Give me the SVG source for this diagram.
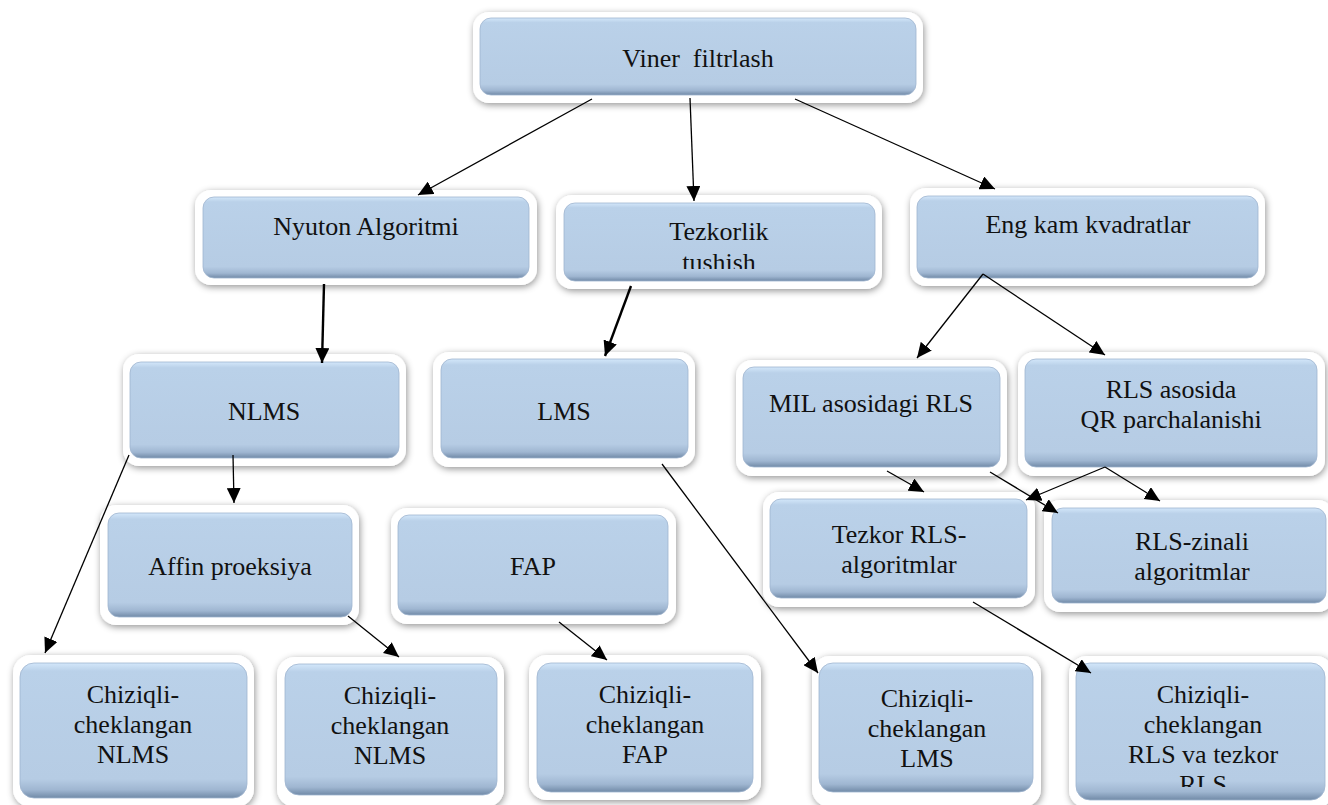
<svg xmlns="http://www.w3.org/2000/svg" width="1328" height="805" viewBox="0 0 1328 805">
<defs>
<style>
.frame{fill:#ffffff;filter:url(#sh);}
.box{fill:url(#g);stroke:#9fb5cf;stroke-width:0.8;}
.t{font-family:'Liberation Serif','Times New Roman',serif;font-size:26px;fill:#111111;text-anchor:middle;}
.c{stroke:#000000;stroke-width:1.3;fill:none;marker-end:url(#ah);}
.thick{stroke-width:2.4;}
</style>
<filter id="sh" x="-10%" y="-15%" width="120%" height="135%">
<feDropShadow dx="1" dy="2" stdDeviation="3.5" flood-color="#000000" flood-opacity="0.42"/>
</filter>
<linearGradient id="g" x1="0" y1="0" x2="0" y2="1">
<stop offset="0" stop-color="#d3e7fa"/>
<stop offset="0.06" stop-color="#bad1e9"/>
<stop offset="0.86" stop-color="#b6cce4"/>
<stop offset="0.94" stop-color="#9fb6d1"/>
<stop offset="1" stop-color="#718aa7"/>
</linearGradient>
<marker id="ah" markerUnits="userSpaceOnUse" markerWidth="16" markerHeight="14" refX="15" refY="7" orient="auto">
<path d="M0,0 L15,7 L0,14 z" fill="#000000"/>
</marker>
<clipPath id="clipA"><rect x="560" y="200" width="320" height="69"/></clipPath>
<clipPath id="clipB"><rect x="1070" y="660" width="258" height="127"/></clipPath>
</defs>
<rect x="0" y="0" width="1328" height="805" fill="#ffffff"/>

<g id="viner">
<rect class="frame" x="473" y="12" width="450" height="91" rx="16"/>
<rect class="box" x="480" y="18" width="436" height="77" rx="11"/>
<text class="t" x="698" y="67" xml:space="preserve">Viner  filtrlash</text>
</g>

<g id="nyuton">
<rect class="frame" x="195" y="190" width="342" height="95" rx="16"/>
<rect class="box" x="203" y="197" width="326" height="81" rx="11"/>
<text class="t" x="366" y="235">Nyuton Algoritmi</text>
</g>

<g id="tezkorlik">
<rect class="frame" x="556" y="195" width="326" height="94" rx="16"/>
<rect class="box" x="564" y="203" width="311" height="78" rx="11"/>
<g clip-path="url(#clipA)">
<text class="t" x="719" y="240">Tezkorlik</text>
<text class="t" x="719" y="271">tushish</text>
</g>
</g>

<g id="eng">
<rect class="frame" x="910" y="188" width="355" height="98" rx="16"/>
<rect class="box" x="917" y="196" width="341" height="82" rx="11"/>
<text class="t" x="1088" y="233">Eng kam kvadratlar</text>
</g>

<g id="nlms">
<rect class="frame" x="123" y="354" width="283" height="112" rx="16"/>
<rect class="box" x="130" y="362" width="269" height="96" rx="11"/>
<text class="t" x="264" y="420">NLMS</text>
</g>

<g id="lms">
<rect class="frame" x="433" y="352" width="262" height="115" rx="16"/>
<rect class="box" x="441" y="359" width="247" height="99" rx="11"/>
<text class="t" x="564" y="420">LMS</text>
</g>

<g id="mil">
<rect class="frame" x="736" y="360" width="271" height="116" rx="16"/>
<rect class="box" x="743" y="367" width="257" height="100" rx="11"/>
<text class="t" x="871" y="412">MIL asosidagi RLS</text>
</g>

<g id="rlsqr">
<rect class="frame" x="1018" y="352" width="307" height="124" rx="16"/>
<rect class="box" x="1025" y="359" width="292" height="108" rx="11"/>
<text class="t" x="1171" y="398">RLS asosida</text>
<text class="t" x="1171" y="428">QR parchalanishi</text>
</g>

<g id="affin">
<rect class="frame" x="100" y="505" width="259" height="120" rx="16"/>
<rect class="box" x="108" y="513" width="244" height="104" rx="11"/>
<text class="t" x="230" y="575">Affin proeksiya</text>
</g>

<g id="fap">
<rect class="frame" x="391" y="508" width="285" height="116" rx="16"/>
<rect class="box" x="398" y="515" width="270" height="100" rx="11"/>
<text class="t" x="533" y="575">FAP</text>
</g>

<g id="tezkorrls">
<rect class="frame" x="763" y="492" width="272" height="115" rx="16"/>
<rect class="box" x="770" y="499" width="257" height="99" rx="11"/>
<text class="t" x="899" y="543">Tezkor RLS-</text>
<text class="t" x="899" y="573">algoritmlar</text>
</g>

<g id="zinali">
<rect class="frame" x="1044" y="500" width="290" height="112" rx="16"/>
<rect class="box" x="1052" y="508" width="274" height="95" rx="11"/>
<text class="t" x="1192" y="550">RLS-zinali</text>
<text class="t" x="1192" y="580">algoritmlar</text>
</g>

<g id="chiziqli-nlms-1">
<rect class="frame" x="13" y="655" width="241" height="152" rx="18"/>
<rect class="box" x="20" y="663" width="227" height="135" rx="14"/>
<text class="t" x="133" y="703">Chiziqli-</text>
<text class="t" x="133" y="733">cheklangan</text>
<text class="t" x="133" y="763">NLMS</text>
</g>

<g id="chiziqli-nlms-2">
<rect class="frame" x="277" y="657" width="227" height="150" rx="18"/>
<rect class="box" x="285" y="664" width="212" height="131" rx="14"/>
<text class="t" x="390" y="704">Chiziqli-</text>
<text class="t" x="390" y="734">cheklangan</text>
<text class="t" x="390" y="764">NLMS</text>
</g>

<g id="chiziqli-fap">
<rect class="frame" x="529" y="655" width="232" height="145" rx="18"/>
<rect class="box" x="537" y="663" width="216" height="129" rx="14"/>
<text class="t" x="645" y="703">Chiziqli-</text>
<text class="t" x="645" y="733">cheklangan</text>
<text class="t" x="645" y="763">FAP</text>
</g>

<g id="chiziqli-lms">
<rect class="frame" x="812" y="656" width="229" height="151" rx="18"/>
<rect class="box" x="819" y="663" width="214" height="129" rx="14"/>
<text class="t" x="927" y="707">Chiziqli-</text>
<text class="t" x="927" y="737">cheklangan</text>
<text class="t" x="927" y="767">LMS</text>
</g>

<g id="chiziqli-rls">
<rect class="frame" x="1069" y="656" width="265" height="152" rx="18"/>
<rect class="box" x="1076" y="663" width="249" height="137" rx="14"/>
<g clip-path="url(#clipB)">
<text class="t" x="1203" y="703">Chiziqli-</text>
<text class="t" x="1203" y="733">cheklangan</text>
<text class="t" x="1203" y="763">RLS va tezkor</text>
<text class="t" x="1203" y="793">RLS</text>
</g>
</g>

<g id="connectors">
<line class="c" x1="592" y1="99" x2="418" y2="195"/>
<line class="c" x1="690" y1="98" x2="694" y2="201"/>
<line class="c" x1="795" y1="99" x2="995" y2="189"/>
<line class="c thick" x1="324" y1="284" x2="322" y2="363"/>
<line class="c thick" x1="631" y1="286" x2="605" y2="356"/>
<line class="c" x1="983" y1="274" x2="917" y2="358"/>
<line class="c" x1="983" y1="274" x2="1105" y2="355"/>
<line class="c" x1="129" y1="455" x2="45" y2="653"/>
<line class="c" x1="233" y1="455" x2="234" y2="503"/>
<line class="c" x1="662" y1="464" x2="818" y2="673"/>
<line class="c" x1="887" y1="471" x2="924" y2="492"/>
<line class="c" x1="990" y1="472" x2="1058" y2="513"/>
<line class="c" x1="1105" y1="467" x2="1026" y2="500"/>
<line class="c" x1="1105" y1="467" x2="1160" y2="501"/>
<line class="c" x1="348" y1="616" x2="399" y2="657"/>
<line class="c" x1="559" y1="622" x2="607" y2="660"/>
<line class="c" x1="973" y1="602" x2="1091" y2="673"/>
</g>
</svg>
